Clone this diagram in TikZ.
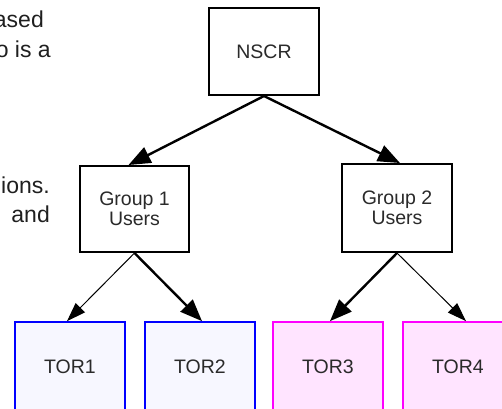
\documentclass[tikz,border=0pt]{standalone}
\usepackage{fontspec}
\setmainfont{Liberation Sans}
\usetikzlibrary{arrows.meta}

\definecolor{labelgray}{HTML}{2A2A2A}
\definecolor{torblue}{HTML}{0000FF}
\definecolor{torbluefill}{HTML}{F7F7FF}
\definecolor{tormag}{HTML}{FF00FF}
\definecolor{tormagfill}{HTML}{FFE4FF}

\tikzset{
  userbox/.style={draw=black, line width=2pt, fill=white, rectangle,
    minimum width=110pt, minimum height=87pt, inner sep=0pt,
    align=center, text=labelgray,
    font=\fontsize{19.5pt}{20.5pt}\selectfont},
  torbox/.style={rectangle, line width=1.7pt,
    minimum width=110pt, minimum height=90pt, inner sep=0pt,
    text=labelgray, font=\fontsize{19.5pt}{20.5pt}\selectfont},
  bluebox/.style={torbox, draw=torblue, fill=torbluefill},
  magbox/.style={torbox, draw=tormag, fill=tormagfill},
  thickarrow/.style={line width=2.4pt,
    -{Triangle[length=22pt, width=17pt]}},
  thinarrow/.style={line width=1pt,
    -{Triangle[length=19pt, width=13pt]}},
  sidetext/.style={anchor=base east, inner sep=0pt, text=black!88,
    font=\fontsize{23pt}{23pt}\selectfont}
}

\begin{document}
\begin{tikzpicture}[x=1pt, y=-1pt]
  \useasboundingbox (0,0) rectangle (502,408);
  \clip (0,0) rectangle (502,408);

  % fragments of the surrounding paragraph
  \node[sidetext] (s1) at (44,27) {ased};
  \node[sidetext] (s2) at (51,57) {o is a};
  \node[sidetext] (s3) at (50,193) {ions.};
  \node[sidetext] (s4) at (50,222) {and};

  % hierarchy boxes
  \node[userbox] (nscr) at (264,51.5) {NSCR};
  \node[userbox, minimum width=109pt, minimum height=86pt] (g1) at (134.5,209) {Group 1\\Users};
  \node[userbox, minimum height=88pt] (g2) at (397,208) {Group 2\\Users};

  \node[bluebox] (tor1) at (70,367) {TOR1};
  \node[bluebox] (tor2) at (200,367) {TOR2};
  \node[magbox]  (tor3) at (328,367) {TOR3};
  \node[magbox]  (tor4) at (458,367) {TOR4};

  % connectors
  \draw[thickarrow] (nscr.south) -- ([xshift=-6pt]g1.north);
  \draw[thickarrow] (nscr.south) -- ([xshift=3pt]g2.north);
  \draw[thinarrow]  (g1.south) -- ([xshift=-3pt]tor1.north);
  \draw[thickarrow] (g1.south) -- ([xshift=2pt]tor2.north);
  \draw[thickarrow] (g2.south) -- ([xshift=2pt]tor3.north);
  \draw[thinarrow]  (g2.south) -- ([xshift=8pt]tor4.north);
\end{tikzpicture}
\end{document}
